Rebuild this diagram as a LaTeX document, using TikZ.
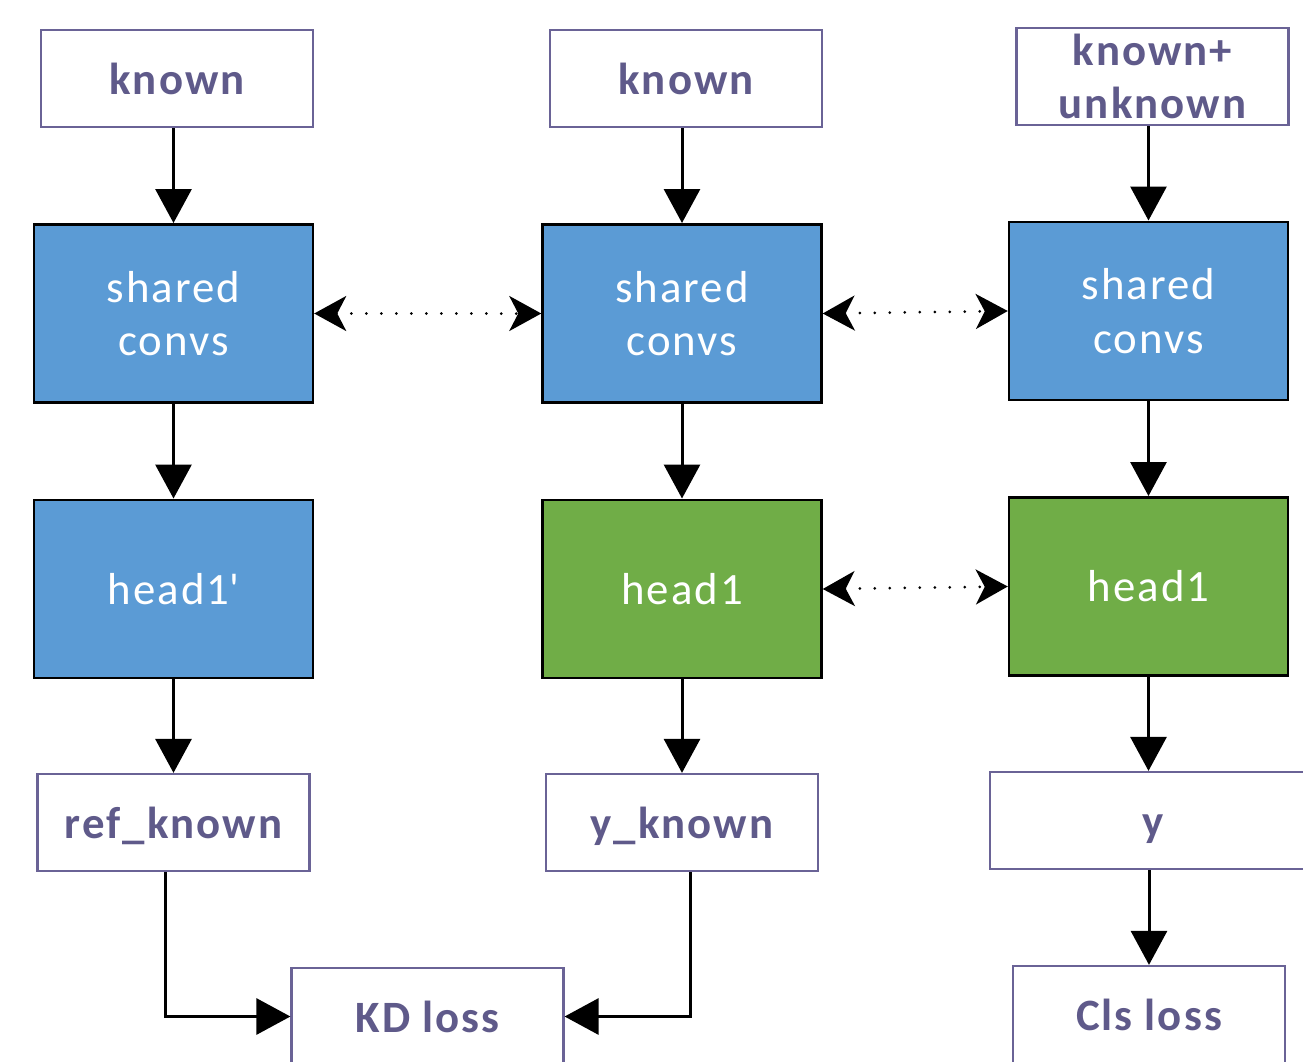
\documentclass[tikz,border=0pt]{standalone}
\usepackage{fontspec}
\setmainfont{Carlito}[LetterSpace=4.5]
\usetikzlibrary{arrows.meta}
\definecolor{txtpurple}{HTML}{5F5A8A}
\definecolor{bordpurple}{HTML}{6A6396}
\definecolor{boxblue}{HTML}{5B9BD5}
\definecolor{boxgreen}{HTML}{70AD47}
\tikzset{
  iobox/.style={draw=bordpurple, line width=0.045cm, fill=white, inner sep=0pt,
    minimum width=5.44cm, minimum height=1.94cm, text=txtpurple, align=center,
    font=\fontsize{25.5}{30.6}\selectfont\bfseries},
  oneline/.style={text height=0.84cm, text depth=0.2cm},
  netbox/.style={draw=black, line width=0.05cm, inner sep=0pt,
    minimum width=5.58cm, minimum height=3.57cm, text=white, align=center,
    font=\fontsize{25.5}{30.6}\selectfont},
  bluebox/.style={netbox, fill=boxblue},
  greenbox/.style={netbox, fill=boxgreen},
  flow/.style={draw=black, line width=0.06cm, -{Triangle[length=0.68cm,width=0.72cm]}},
  share/.style={draw=black, line width=0.06cm, line cap=round, dash pattern=on 0pt off 0.3cm,
    {Stealth[length=0.64cm,width=0.7cm,inset=0.18cm]}-{Stealth[length=0.64cm,width=0.7cm,inset=0.18cm]}}
}
\begin{document}
\begin{tikzpicture}[x=0.02cm,y=-0.02cm]
\clip (0,0) rectangle (1303,1062);
\fill[white] (0,0) rectangle (1303,1062);
% inputs
\node[iobox, oneline] (k1) at (177,78.5) {known};
\node[iobox, oneline] (k2) at (686,78.5) {known};
\node[iobox] (k3) at (1152.5,76.5) {known+\\unknown};
% shared convs
\node[bluebox] (s1) at (173.5,313.5) {shared\\convs};
\node[bluebox] (s2) at (682,313.5) {shared\\convs};
\node[bluebox] (s3) at (1148.5,311) {shared\\convs};
% heads
\node[bluebox] (h1) at (173.5,589) {head1\textquotesingle};
\node[greenbox] (h2) at (682,589) {head1};
\node[greenbox] (h3) at (1148.5,586.5) {head1};
% outputs
\node[iobox, oneline] (r1) at (173.5,822.5) {ref\_known};
\node[iobox, oneline] (r2) at (682,822.5) {y\_known};
\node[iobox, oneline, minimum width=6.52cm] (r3) at (1153,820.5) {y};
% losses
\node[iobox, oneline] (kd) at (427.5,1016.5) {KD loss};
\node[iobox, oneline] (cls) at (1149,1014.5) {Cls loss};
% vertical flows
\draw[flow] (k1.south -| s1.north) -- (s1.north);
\draw[flow] (k2.south -| s2.north) -- (s2.north);
\draw[flow] (k3.south -| s3.north) -- (s3.north);
\draw[flow] (s1) -- (h1);
\draw[flow] (s2) -- (h2);
\draw[flow] (s3) -- (h3);
\draw[flow] (h1.south) -- (r1.north);
\draw[flow] (h2.south) -- (r2.north);
\draw[flow] (h3.south) -- (r3.north -| h3.south);
\draw[flow] (r3.south -| cls.north) -- (cls.north);
\draw[flow] ([xshift=-0.17cm]r1.south) |- (kd.west);
\draw[flow] ([xshift=0.16cm]r2.south) |- (kd.east);
% shared links
\draw[share] (s1.east) -- (s2.west);
\draw[share] (s2.east) -- (s3.west);
\draw[share] (h2.east) -- (h3.west);
\end{tikzpicture}
\end{document}
